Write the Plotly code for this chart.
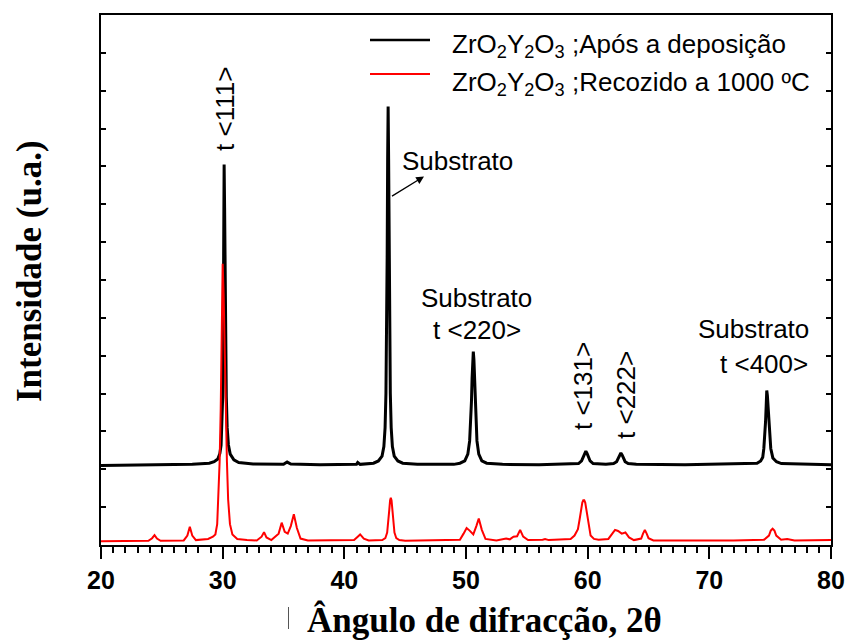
import plotly.graph_objects as go

# ---------------- data ----------------
# 2theta (degrees) and intensity (arbitrary units, as drawn, with vertical offset)
x_dep = [20.0, 25.0, 27.5, 28.9, 29.3, 29.6, 29.77, 29.87, 29.94, 30.0, 30.04, 30.08, 30.12,
         30.16, 30.2, 30.24, 30.3, 30.37, 30.47, 30.62, 30.92, 31.32, 32.5, 35.0, 35.3, 35.6,
         38.0, 41.0, 41.1, 41.3, 42.0, 42.4, 42.8, 43.1, 43.25, 43.35, 43.42, 43.48, 43.52,
         43.56, 43.6, 43.64, 43.68, 43.72, 43.78, 43.85, 43.95, 44.1, 44.4, 44.8, 46.0, 49.0,
         49.5, 49.9, 50.15, 50.3, 50.38, 50.45, 50.5, 50.55, 50.6, 50.65, 50.7, 50.75, 50.82,
         50.9, 51.05, 51.3, 51.7, 53.0, 56.0, 59.25, 59.5, 59.65, 59.75, 59.85, 59.95, 60.05,
         60.2, 60.45, 61.5, 62.13, 62.38, 62.53, 62.63, 62.73, 62.83, 62.93, 63.08, 63.33,
         64.0, 68.0, 73.5, 73.92, 74.22, 74.39, 74.48, 74.56, 74.62, 74.67, 74.72, 74.77,
         74.82, 74.88, 74.96, 75.05, 75.22, 75.52, 75.92, 78.0, 80.0]
y_dep = [2.10, 2.11, 2.13, 2.16, 2.20, 2.27, 2.42, 2.64, 3.10, 3.90, 5.20, 6.90, 10.05,
         8.90, 6.90, 5.20, 3.90, 3.10, 2.65, 2.40, 2.25, 2.18, 2.14, 2.13, 2.19, 2.14,
         2.12, 2.13, 2.18, 2.13, 2.14, 2.16, 2.22, 2.35, 2.60, 3.10, 4.00, 5.60, 7.60,
         10.2, 11.58, 10.2, 7.60, 5.60, 4.00, 3.10, 2.60, 2.35, 2.22, 2.16, 2.13, 2.13,
         2.16, 2.22, 2.40, 2.75, 3.20, 3.80, 4.40, 4.90, 5.11, 4.90, 4.40, 3.80, 3.20,
         2.75, 2.40, 2.22, 2.16, 2.13, 2.12, 2.15, 2.22, 2.33, 2.42, 2.48, 2.42, 2.33,
         2.22, 2.15, 2.13, 2.15, 2.20, 2.30, 2.38, 2.43, 2.38, 2.30, 2.20, 2.15,
         2.13, 2.12, 2.14, 2.16, 2.22, 2.32, 2.55, 2.85, 3.25, 3.65, 4.08, 3.95,
         3.65, 3.25, 2.85, 2.55, 2.30, 2.20, 2.15, 2.13, 2.12]

x_rec = [20.0, 23.9, 24.2, 24.4, 24.6, 24.9, 26.8, 27.1, 27.3, 27.5, 27.8, 28.5, 28.8, 29.2,
         29.4, 29.55, 29.65, 29.75, 29.84, 29.92, 30.0, 30.08, 30.16, 30.25, 30.35, 30.45,
         30.6, 30.8, 31.2, 32.0, 32.8, 33.2, 33.4, 33.6, 34.0, 34.6, 34.85, 35.1, 35.35, 35.6,
         35.85, 36.1, 36.4, 37.0, 40.8, 41.1, 41.3, 41.6, 42.0, 43.12, 43.37, 43.52, 43.62,
         43.7, 43.76, 43.82, 43.88, 43.94, 44.02, 44.12, 44.27, 44.52, 45.0, 49.5, 49.8, 50.05,
         50.3, 50.6, 50.85, 51.05, 51.3, 51.6, 52.5, 53.0, 53.3, 53.6, 53.9, 54.2, 54.45, 54.7,
         55.1, 56.3, 56.5, 56.8, 58.2, 58.6, 58.92, 59.2, 59.34, 59.46, 59.56, 59.64, 59.72,
         59.8, 59.88, 59.98, 60.1, 60.24, 60.52, 60.9, 61.7, 62.0, 62.25, 62.5, 62.8, 63.1,
         63.4, 63.8, 64.4, 64.55, 64.7, 64.85, 65.0, 65.4, 67.0, 69.0, 72.0, 74.5, 74.9, 75.05,
         75.2, 75.35, 75.5, 75.9, 76.4, 77.0, 80.0]
y_rec = [0.10, 0.11, 0.18, 0.26, 0.17, 0.11, 0.12, 0.25, 0.48, 0.25, 0.13, 0.14, 0.16, 0.22,
         0.28, 0.55, 1.20, 2.20, 3.60, 5.00, 7.43, 6.60, 5.00, 3.60, 2.20, 1.20, 0.55, 0.28,
         0.16, 0.13, 0.12, 0.22, 0.34, 0.20, 0.13, 0.30, 0.59, 0.35, 0.30, 0.50,
         0.81, 0.45, 0.17, 0.12, 0.13, 0.22, 0.28, 0.17, 0.12, 0.13, 0.18, 0.33, 0.60,
         0.95, 1.18, 1.25, 1.18, 0.95, 0.60, 0.33, 0.18, 0.13, 0.11, 0.14, 0.30, 0.45,
         0.38, 0.28, 0.50, 0.70, 0.40, 0.16, 0.12, 0.16, 0.17, 0.15, 0.22, 0.23, 0.40, 0.22,
         0.13, 0.14, 0.16, 0.13, 0.14, 0.16, 0.25, 0.42, 0.68, 0.95, 1.12, 1.18, 1.18,
         1.12, 0.95, 0.68, 0.42, 0.25, 0.16, 0.14, 0.16, 0.30, 0.40, 0.37, 0.30, 0.33,
         0.20, 0.13, 0.17, 0.30, 0.40, 0.30, 0.18, 0.12, 0.12, 0.13, 0.12, 0.14, 0.25, 0.38,
         0.43, 0.38, 0.25, 0.14, 0.16, 0.12, 0.13]

series_names = ["ZrO<sub>2</sub>Y<sub>2</sub>O<sub>3</sub> ;Após a deposição",
                "ZrO<sub>2</sub>Y<sub>2</sub>O<sub>3</sub> ;Recozido a 1000 ºC"]
series_colors = ["#000000", "#ff0000"]
x_ticks = [20, 30, 40, 50, 60, 70, 80]

# ---------------- layout helpers ----------------
W, H = 847, 642
L, R, T, B = 101, 831, 15, 545


def px(xp):
    return (xp - L) / (R - L)


def py(yp):
    return (B - yp) / (B - T)


fig = go.Figure()
fig.add_trace(go.Scatter(x=x_dep, y=y_dep, mode="lines", name=series_names[0],
                         line=dict(color=series_colors[0], width=3), showlegend=False))
fig.add_trace(go.Scatter(x=x_rec, y=y_rec, mode="lines", name=series_names[1],
                         line=dict(color=series_colors[1], width=2), showlegend=False))

ann_font = dict(family="Liberation Sans, Arial, sans-serif", size=26, color="black")
title_font = dict(family="Liberation Serif, Times New Roman, serif", size=35, color="black",
                  weight="bold")

annotations = []


def label(text, xp, yp, angle=0, xanchor="center"):
    annotations.append(dict(text=text, x=px(xp), y=py(yp), xref="paper", yref="paper",
                            showarrow=False, textangle=angle, xanchor=xanchor,
                            yanchor="middle", font=ann_font))


label("t &lt;111&gt;", 225, 109, -90)
label("Substrato", 457, 161)
label("Substrato", 476, 298)
label("t &lt;220&gt;", 477, 330)
label("t &lt;131&gt;", 583, 386, -90)
label("t &lt;222&gt;", 626, 395, -90)
label("Substrato", 753, 329)
label("t &lt;400&gt;", 764, 364)

# legend (drawn manually)
label(series_names[0], 450, 46, xanchor="left")
label(series_names[1], 450, 84, xanchor="left")

# arrow for the substrate peak (offsets in pixels from the head)
annotations.append(dict(text="", x=px(424), y=py(176.5), xref="paper", yref="paper",
                        ax=390.5 - 424, ay=197 - 176.5, axref="pixel", ayref="pixel",
                        showarrow=True, arrowhead=2, arrowsize=1.2, arrowwidth=1.3,
                        arrowcolor="black", standoff=0, startstandoff=0))

# axis titles
annotations.append(dict(text="Intensidade (u.a.)", x=px(29), y=py(271), xref="paper",
                        yref="paper", showarrow=False, textangle=-90, font=title_font,
                        xanchor="center", yanchor="middle"))
annotations.append(dict(text="Ângulo de difracção, 2θ", x=px(484), y=py(620), xref="paper",
                        yref="paper", showarrow=False, font=title_font,
                        xanchor="center", yanchor="middle"))

shapes = [
    dict(type="line", xref="paper", yref="paper", x0=px(370), x1=px(430), y0=py(40), y1=py(40),
         line=dict(color=series_colors[0], width=2.5)),
    dict(type="line", xref="paper", yref="paper", x0=px(370), x1=px(430), y0=py(74), y1=py(74),
         line=dict(color=series_colors[1], width=2)),
    dict(type="line", xref="paper", yref="paper", x0=px(288.5), x1=px(288.5), y0=py(607),
         y1=py(629), line=dict(color="#555555", width=1)),
]

fig.update_layout(
    width=W, height=H, autosize=False,
    margin=dict(l=L, r=W - R, t=T, b=H - B, pad=0, autoexpand=False),
    paper_bgcolor="white", plot_bgcolor="white",
    annotations=annotations, shapes=shapes,
    showlegend=False,
)
fig.update_xaxes(range=[20, 80], tickvals=x_ticks, ticks="outside", ticklen=12, tickwidth=2,
                 tickcolor="black", showline=True, linewidth=2, linecolor="black", mirror=True,
                 showgrid=False, zeroline=False, automargin=False,
                 tickfont=dict(family="Liberation Sans, Arial, sans-serif", size=25,
                               color="black", weight="bold"),
                 minor=dict(dtick=1, ticks="outside", ticklen=6, tickwidth=2, tickcolor="black",
                            showgrid=False))
fig.update_yaxes(range=[0, 14], dtick=1, ticks="inside", ticklen=5, tickwidth=1.5,
                 tickcolor="black", showticklabels=False, showline=True, linewidth=2,
                 linecolor="black", mirror="ticks", showgrid=False, zeroline=False,
                 automargin=False)

fig.write_html("out.html")
